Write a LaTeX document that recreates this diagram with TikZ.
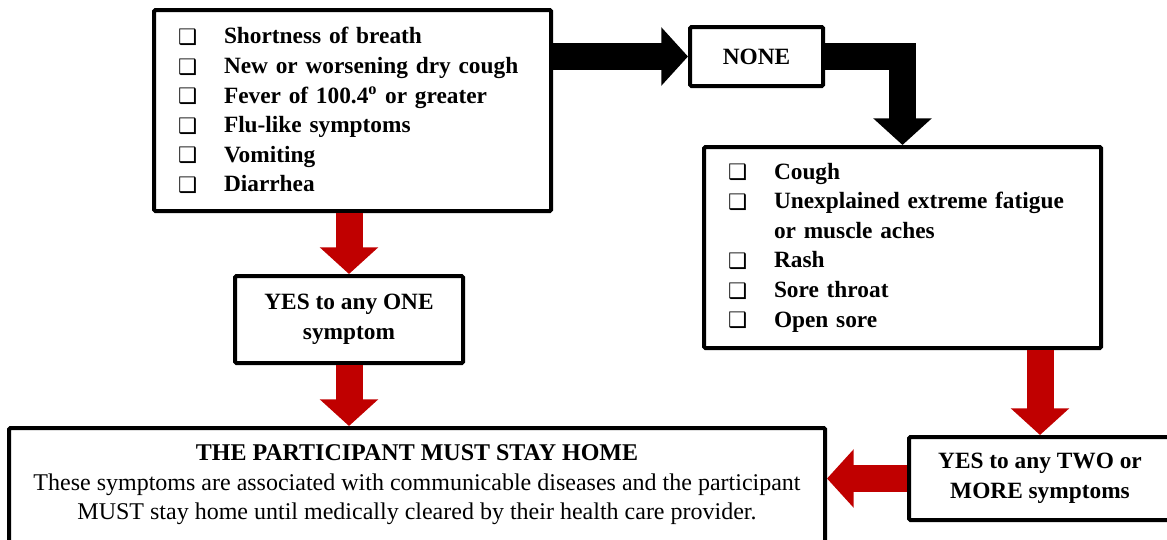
\documentclass[tikz,border=0pt]{standalone}
\usepackage{fontspec}
\setmainfont{Liberation Serif}
\newfontfamily\boxsym{DejaVu Sans}
\usepackage{xcolor}
\usetikzlibrary{arrows.meta}

\definecolor{alertred}{RGB}{192,0,0}
\newcommand{\chk}{\makebox[34.5pt][l]{\raisebox{-0.5pt}{\boxsym\fontsize{16}{16}\selectfont ❑}}}

\begin{document}
\begin{tikzpicture}[x=0.75pt,y=0.75pt,yscale=-1,xscale=1,
  box/.style={draw,line width=3pt,rounded corners=1pt,inner sep=0pt,align=center,
    font=\fontsize{17.5}{22.2}\selectfont\bfseries},
  listbox/.style={box,align=left,text width=261.75pt,inner xsep=18pt,minimum height=150.75pt},
  blackarrow/.style={line width=20.25pt,-{Triangle[length=20pt,width=42.75pt]}},
  redarrow/.style={draw=alertred,line width=20.25pt,-{Triangle[length=20pt,width=42.75pt]}}]
\useasboundingbox (0,0) rectangle (1167,539);

%Shape: Rectangle [id:box1] 
\node [listbox] (box1) at (352.5,110.5) {\chk Shortness of breath\\\chk New or worsening dry cough\\\chk Fever of 100.4\textsuperscript{o} or greater\\\chk Flu-like symptoms\\\chk Vomiting\\\chk Diarrhea};
%Shape: Rectangle [id:none] 
\node [box,minimum width=99.75pt,minimum height=44.25pt] (none) at (756.5,56.5) {NONE};
%Shape: Rectangle [id:box2] 
\node [listbox] (box2) at (902.5,247.5) {\chk Cough\\\chk Unexplained extreme fatigue\\\hspace*{34.5pt}or muscle aches\\\chk Rash\\\chk Sore throat\\\chk Open sore};
%Shape: Rectangle [id:yesone] 
\node [box,minimum width=171pt,minimum height=65.25pt] (yesone) at (349,319.5) {YES to any ONE\\symptom};
%Shape: Rectangle [id:yestwo] 
\node [box,minimum width=196.5pt,minimum height=62.25pt] (yestwo) at (1040,478.5) {YES to any TWO or\\MORE symptoms};
%Shape: Rectangle [id:home] 
\node [box,minimum width=612pt,minimum height=85.5pt,font=\fontsize{18}{22.2}\selectfont] (home) at (417,485) {\textbf{THE PARTICIPANT MUST STAY HOME}\\These symptoms are associated with communicable diseases and the participant\\MUST stay home until medically cleared by their health care provider.};

%Block Arrows
\draw [blackarrow] (box1.east |- none.west) -- (none.west) ;
\draw [blackarrow] (none.east) -| (box2.north) ;
\draw [redarrow] (box1.south -| yesone.north) -- (yesone.north) ;
\draw [redarrow] (yesone.south) -- (yesone.south |- home.north) ;
\draw [redarrow] (box2.south -| yestwo.north) -- (yestwo.north) ;
\draw [redarrow] (yestwo.west) -- (yestwo.west -| home.east) ;

\end{tikzpicture}
\end{document}
